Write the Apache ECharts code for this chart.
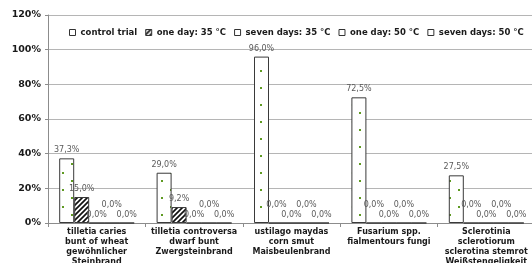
<!DOCTYPE html>
<html>
<head>
<meta charset="utf-8">
<script src="https://cdn.jsdelivr.net/npm/echarts@6/dist/echarts.min.js"></script>
<style>
html,body{margin:0;padding:0;background:#fff;}
#chart{width:532px;height:263px;}
</style>
</head>
<body>
<div id="chart"></div>
<script>
var categories  = [
    'tilletia caries\nbunt of wheat\ngewöhnlicher\nSteinbrand',
    'tilletia controversa\ndwarf bunt\nZwergsteinbrand',
    'ustilago maydas\ncorn smut\nMaisbeulenbrand',
    'Fusarium spp.\nfialmentours fungi',
    'Sclerotinia\nsclerotiorum\nsclerotina stemrot\nWeißstengeligkeit'
];
var seriesNames = ['control trial','one day: 35 °C','seven days: 35 °C','one day: 50 °C','seven days: 50 °C'];
var controlTrial    = [37.3, 29.0, 96.0, 72.5, 27.5];
var oneDay35        = [15.0, 9.2, 0.0, 0.0, 0.0];
var sevenDays35     = [0.0, 0.0, 0.0, 0.0, 0.0];
var oneDay50        = [0.0, 0.0, 0.0, 0.0, 0.0];
var sevenDays50     = [0.0, 0.0, 0.0, 0.0, 0.0];
var yTicks          = [0, 20, 40, 60, 80, 100, 120];

// pattern fills
function dotPattern(){
    var c = document.createElement('canvas');
    c.width = 18; c.height = 17;
    var ctx = c.getContext('2d');
    ctx.fillStyle = '#ffffff';
    ctx.fillRect(0,0,18,17);
    ctx.fillStyle = '#5f9a22';
    ctx.fillRect(8,2,2,2);
    ctx.fillRect(17,10,2,2);
    ctx.fillRect(0,10,1,2);
    return c;
}
function hatchPattern(){
    var c = document.createElement('canvas');
    c.width = 5; c.height = 5;
    var ctx = c.getContext('2d');
    ctx.fillStyle = '#ffffff';
    ctx.fillRect(0,0,5,5);
    ctx.strokeStyle = '#111111';
    ctx.lineWidth = 1.7;
    ctx.beginPath();
    ctx.moveTo(0,5); ctx.lineTo(5,0);
    ctx.moveTo(-1,1); ctx.lineTo(1,-1);
    ctx.moveTo(4,6); ctx.lineTo(6,4);
    ctx.stroke();
    return c;
}

var fills = [
    {image: dotPattern(), repeat: 'repeat'},
    {image: hatchPattern(), repeat: 'repeat'},
    '#ffffff', '#ffffff', '#ffffff'
];
var allData = [controlTrial, oneDay35, sevenDays35, oneDay50, sevenDays50];
// series whose zero labels sit a bit higher
var raiseZero = [false, true, false, true, false];

function fmt(p){
    return p.value.toFixed(1).replace('.', ',') + '%';
}

var series = [];
var legendData = [];
for(var i=0;i<allData.length;i++){
    var data = [];
    for(var j=0;j<allData[i].length;j++){
        var v = allData[i][j];
        var item = {value: v};
        if(raiseZero[i] && v == 0){
            item.label = {offset: [0, -10]};
        }
        data.push(item);
    }
    series.push({
        name: seriesNames[i],
        type: 'bar',
        barWidth: 15,
        barGap: '0%',
        data: data,
        itemStyle: {color: fills[i], borderColor: '#3a3a3a', borderWidth: 1},
        label: {
            show: true,
            position: 'top',
            distance: 4,
            formatter: fmt,
            fontFamily: 'DejaVu Sans',
            fontSize: 8,
            color: '#5a5a5a'
        },
        emphasis: {disabled: true}
    });
    legendData.push({
        name: seriesNames[i],
        icon: 'rect',
        itemStyle: {color: i == 1 ? fills[1] : '#ffffff', borderColor: '#333', borderWidth: 1}
    });
}

var chart = echarts.init(document.getElementById('chart'));
var option = {
    animation: false,
    backgroundColor: '#ffffff',
    legend: {
        data: legendData,
        left: 64,
        top: 23,
        itemWidth: 6,
        itemHeight: 6,
        itemGap: 8,
        textStyle: {fontFamily: 'DejaVu Sans', fontSize: 8.5, fontWeight: 'bold', color: '#1a1a1a'}
    },
    grid: {left: 48, right: -3, top: 15, bottom: 40, outerBoundsMode: 'none'},
    xAxis: {
        type: 'category',
        data: categories,
        axisLine: {lineStyle: {color: '#8c8c8c'}},
        axisTick: {show: true, length: 4, lineStyle: {color: '#8c8c8c'}},
        axisLabel: {
            interval: 0,
            margin: 4,
            fontFamily: 'DejaVu Sans',
            fontSize: 8,
            fontWeight: 'bold',
            lineHeight: 10,
            color: '#1a1a1a'
        }
    },
    yAxis: {
        type: 'value',
        min: yTicks[0],
        max: yTicks[yTicks.length-1],
        interval: 20,
        axisLine: {show: true, lineStyle: {color: '#8c8c8c'}},
        axisTick: {show: true, length: 3, lineStyle: {color: '#8c8c8c'}},
        splitLine: {lineStyle: {color: '#b5b5b5'}},
        axisLabel: {
            formatter: '{value}%',
            margin: 7,
            fontFamily: 'DejaVu Sans',
            fontSize: 9.5,
            fontWeight: 'bold',
            color: '#1a1a1a'
        }
    },
    series: series
};
chart.setOption(option);
</script>
</body>
</html>
